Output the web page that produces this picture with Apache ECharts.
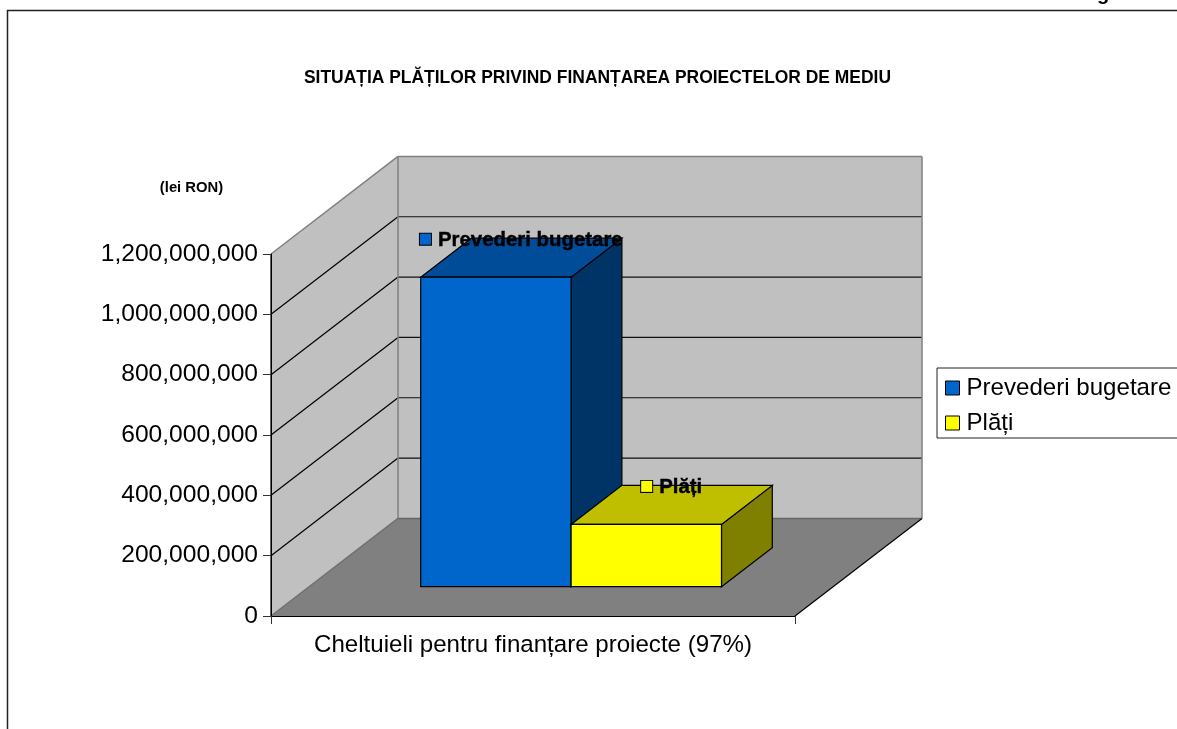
<!DOCTYPE html>
<html><head><meta charset="utf-8">
<style>html,body{margin:0;padding:0;background:#fff;overflow:hidden}#c{width:1177px;height:729px}</style>
<script src="https://cdn.jsdelivr.net/npm/echarts@6/dist/echarts.min.js"></script>
</head><body><div id="c"></div>
<script>
const categories = ['Cheltuieli pentru finanțare proiecte (97%)'];
const seriesNames = ['Prevederi bugetare', 'Plăți'];
const prevederi = [1026000000];
const plati = [206500000];
const yTicks = [0, 200000000, 400000000, 600000000, 800000000, 1000000000, 1200000000];
const titleText = 'SITUAȚIA PLĂȚILOR PRIVIND FINANȚAREA PROIECTELOR DE MEDIU';
const unitText = '(lei RON)';

const FONT = '"Liberation Sans", Arial, sans-serif';
const DX = 127, DY = -97.6;
const BAR_FRONT = 0.3, BAR_DEPTH = 0.4, BAR_W = 0.287;
const poly = (points, fill, stroke, lw) => ({type:'polygon', shape:{points}, style:{fill, stroke: stroke || 'none', lineWidth: lw || 1}});
const line = (a, b, stroke, lw) => ({type:'line', shape:{x1:a[0],y1:a[1],x2:b[0],y2:b[1]}, style:{stroke, lineWidth: lw || 1}});

function renderWalls(params, api) {
  const g = params.coordSys;
  const L = g.x, R = g.x + g.width;
  const y0 = api.coord([0, 0])[1], yT = api.coord([0, yTicks[yTicks.length - 1]])[1];
  const ch = [
    poly([[L,y0],[L+DX,y0+DY],[R+DX,y0+DY],[R,y0]], '#808080'),
    poly([[L,y0],[L,yT],[L+DX,yT+DY],[L+DX,y0+DY]], '#C0C0C0'),
    poly([[L+DX,y0+DY],[L+DX,yT+DY],[R+DX,yT+DY],[R+DX,y0+DY]], '#C0C0C0')
  ];
  yTicks.slice(1, -1).forEach(t => {
    const y = api.coord([0, t])[1];
    ch.push(line([L,y],[L+DX,y+DY],'#000',1.2));
    ch.push(line([L+DX,y+DY],[R+DX,y+DY],'#111',1.2));
  });
  ch.push(line([L,yT],[L+DX,yT+DY],'#808080',1.5));
  ch.push(line([L+DX,yT+DY],[R+DX,yT+DY],'#808080',1.5));
  ch.push(line([L+DX,yT+DY],[L+DX,y0+DY],'#808080',1.5));
  ch.push(line([R+DX,yT+DY],[R+DX,y0+DY],'#808080',1.5));
  ch.push(line([L,y0],[L+DX,y0+DY],'#707070',1.5));
  ch.push(line([L+DX,y0+DY],[R+DX,y0+DY],'#666666',1.5));
  ch.push(line([R,y0],[R+DX,y0+DY],'#000',1.2));
  ch.push(line([L,yT],[L,y0],'#000',1.2));
  return {type:'group', children:ch, silent:true};
}

function barRenderer(idx, front, top, side) {
  return function (params, api) {
    const c = api.coord([api.value(0), api.value(1)]);
    const base = api.coord([api.value(0), 0]);
    const band = api.size([1, 0])[0];
    const w = band * BAR_W;
    const x0 = c[0] + (idx - 1) * w + DX * BAR_FRONT;
    const x1 = x0 + w;
    const yB = base[1] + DY * BAR_FRONT, yT = c[1] + DY * BAR_FRONT;
    const dx = DX * BAR_DEPTH, dy = DY * BAR_DEPTH;
    return {type:'group', children:[
      poly([[x1,yT],[x1+dx,yT+dy],[x1+dx,yB+dy],[x1,yB]], side, '#000', 1.2),
      poly([[x0,yT],[x0+dx,yT+dy],[x1+dx,yT+dy],[x1,yT]], top, '#000', 1.2),
      poly([[x0,yT],[x1,yT],[x1,yB],[x0,yB]], front, '#000', 1.2),
      {type:'text', z2:10, style:{
        x:(x0+x1+dx)/2, y:yT+dy+1, align:'center', verticalAlign:'middle',
        text:'{k| }{t|'+seriesNames[idx]+'}',
        rich:{
          k:{width:11, height:11, backgroundColor:front, borderColor:'#000', borderWidth:1},
          t:{font:'bold 20.4px '+FONT, fill:'#000', stroke:'#000', lineWidth:0.4, padding:[2,0,0,7]}
        }
      }}
    ]};
  };
}

const chart = echarts.init(document.getElementById('c'), null, {renderer:'canvas'});
chart.setOption({
  animation:false,
  backgroundColor:'#fff',
  title:[
    {text:titleText, left:592.5, top:65, textAlign:'center', textStyle:{fontFamily:FONT, fontWeight:'bold', fontSize:17.45, color:'#000'}},
    {text:unitText, left:186.5, top:175, textAlign:'center', textStyle:{fontFamily:FONT, fontWeight:'bold', fontSize:14.8, color:'#000'}}
  ],
  grid:{left:271, top:254, width:524, height:362, containLabel:false},
  xAxis:{type:'category', data:categories, z:10,
    axisLine:{lineStyle:{color:'#000',width:1}},
    axisTick:{show:true, length:8, lineStyle:{color:'#333'}},
    axisLabel:{interval:0, margin:17, fontFamily:FONT, fontSize:24.1, color:'#000'}},
  yAxis:{type:'value', min:0, max:1200000000, interval:200000000, z:10,
    axisLine:{show:true, lineStyle:{color:'#000',width:1}},
    axisTick:{show:true, length:8, lineStyle:{color:'#333'}},
    splitLine:{show:false},
    axisLabel:{margin:13, fontFamily:FONT, fontSize:24.6, color:'#000',
      formatter:v => v.toLocaleString('en-US')}},
  legend:{orient:'vertical', left:937, top:368, icon:'rect', itemWidth:14, itemHeight:14, itemGap:11,
    padding:[8,30,3,8], backgroundColor:'#fff', borderColor:'#222', borderWidth:1,
    data:seriesNames, selectedMode:false,
    itemStyle:{borderColor:'#000', borderWidth:1},
    textStyle:{fontFamily:FONT, fontSize:24.1, color:'#000', padding:[0,0,0,2]}},
  graphic:[
    {type:'polyline', silent:true, z:0, shape:{points:[[7.5,729],[7.5,10.5],[1177,10.5]]}, style:{fill:'none', stroke:'#222', lineWidth:1.5}},
    {type:'text', silent:true, z:0, x:1097, y:4, style:{text:'g', font:'bold 20px '+FONT, fill:'#000', verticalAlign:'bottom', align:'left'}}
  ],
  series:[
    {type:'custom', name:'pereti', renderItem:renderWalls, data:[[0,0]], z:1, silent:true},
    {type:'custom', name:seriesNames[0], renderItem:barRenderer(0,'#0066CC','#004C99','#003366'), itemStyle:{color:'#0066CC'}, encode:{x:0,y:1},
      data:prevederi.map((v,i)=>[i,v]), z:2, silent:true},
    {type:'custom', name:seriesNames[1], renderItem:barRenderer(1,'#FFFF00','#BFBF00','#808000'), itemStyle:{color:'#FFFF00'}, encode:{x:0,y:1},
      data:plati.map((v,i)=>[i,v]), z:3, silent:true}
  ]
});
</script></body></html>
